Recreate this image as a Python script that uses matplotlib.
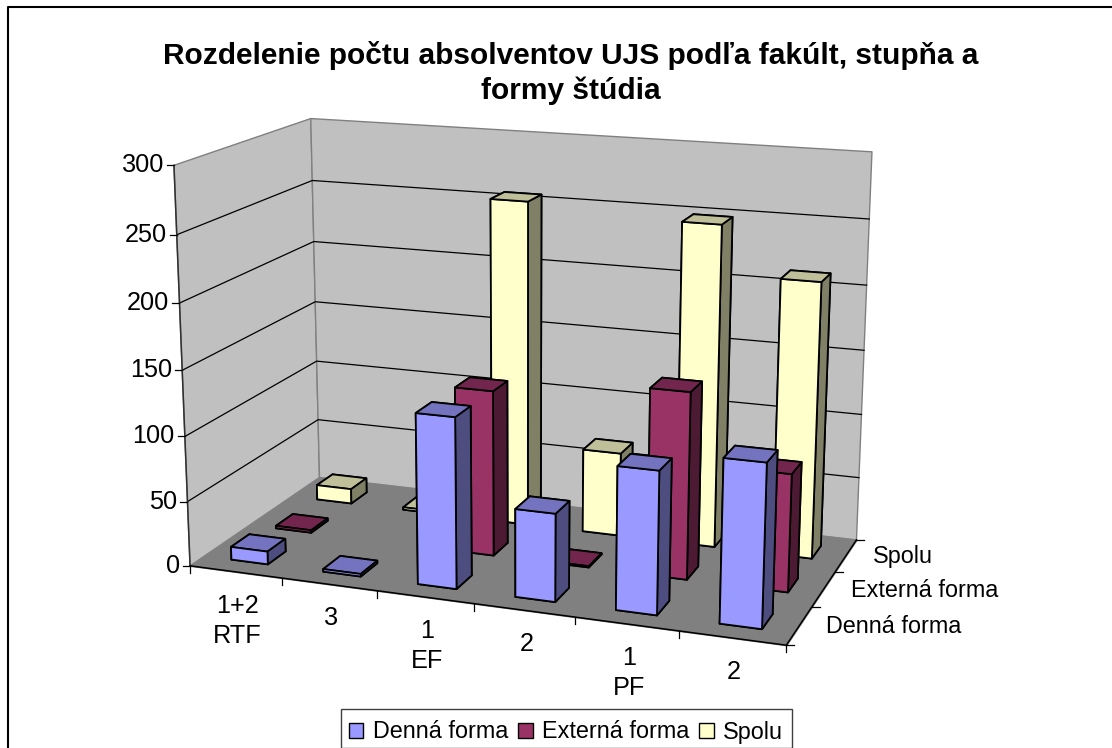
import numpy as np
import matplotlib
matplotlib.use("Agg")
import matplotlib.pyplot as plt
from matplotlib.lines import Line2D
from matplotlib.patches import Patch, Rectangle
from mpl_toolkits.mplot3d import Axes3D
from mpl_toolkits.mplot3d.art3d import Poly3DCollection

TITLE = "Rozdelenie počtu absolventov UJS podľa fakúlt, stupňa a\nformy štúdia"
CATEGORY_LABELS = ["1+2", "3", "1", "2", "1", "2"]
GROUP_LABELS = {0: "RTF", 2: "EF", 4: "PF"}
SERIES = ["Denná forma", "Externá forma", "Spolu"]
DENNA = [10, 2, 129, 66, 106, 120]
EXTERNA = [2, 0, 128, 1, 142, 89]
SPOLU = [12, 2, 256, 66, 249, 212]
VALUES = [DENNA, EXTERNA, SPOLU]
ZTICKS = [0, 50, 100, 150, 200, 250, 300]

FRONT = ["#9999FF", "#993366", "#FFFFCC"]
TOP = ["#7373BF", "#73264D", "#BFBF99"]
SIDE = ["#4D4D80", "#4D1A33", "#808066"]

W, H = 1112, 748
plt.rcParams["font.family"] = ["Liberation Sans", "DejaVu Sans"]
FS = 16.8
FS_NUM = 18.2

nx, ny, zmax = len(CATEGORY_LABELS), len(SERIES), ZTICKS[-1]

# camera fitted to the frame of the 3-D box (world corner -> image pixel)
world = np.array([[0, 0, zmax], [0, 0, 0], [0, ny, zmax], [0, ny, 0],
                  [nx, ny, zmax], [nx, ny, 0], [nx, 0, 0]], float)
image = np.array([[174, 165], [190.3, 565.7], [310.7, 118.7], [319.3, 477.7],
                  [872, 152], [856.7, 539.3], [786, 645.7]], float)
rows = []
for (X, Y, Z), (u, v) in zip(world, image):
    rows.append([X, Y, Z, 1, 0, 0, 0, 0, -u*X, -u*Y, -u*Z, -u])
    rows.append([0, 0, 0, 0, X, Y, Z, 1, -v*X, -v*Y, -v*Z, -v])
A = np.array(rows)
scale = np.diag([1/nx, 1/ny, 1/zmax, 1] * 3)
_, _, Vt = np.linalg.svd(A @ scale)
P = (scale @ Vt[-1]).reshape(3, 4)
if P[2] @ np.array([nx/2, ny/2, 0, 1]) < 0:
    P = -P
depth = np.array([-1.0, 1.0, -0.01, 0.0])
M = np.vstack([P[0], P[1], depth, P[2]])


def px(x, y, z):
    v = P @ np.array([x, y, z, 1.0])
    return v[0]/v[2], v[1]/v[2]


fig = plt.figure(figsize=(W/100, H/100), dpi=100, facecolor="white")
ax = fig.add_axes([0, (H-W)/H, 1, W/H], projection="3d", computed_zorder=False)
ax.set_axis_off()
ax.patch.set_alpha(0)
ax.set_proj_type("ortho")
ax.get_proj = lambda: M


def figtext(x, y, s, **kw):
    return fig.text(x/W, 1-y/H, s, **kw)


def figline(xs, ys, **kw):
    fig.add_artist(Line2D([x/W for x in xs], [1-y/H for y in ys], **kw))


# walls and floor
walls = [[(0, 0, 0), (0, ny, 0), (0, ny, zmax), (0, 0, zmax)],
         [(0, ny, 0), (nx, ny, 0), (nx, ny, zmax), (0, ny, zmax)]]
ax.add_collection3d(Poly3DCollection(walls, facecolors="#C0C0C0", edgecolors="#808080",
                                     linewidths=1.0, zorder=1))
ax.add_collection3d(Poly3DCollection([[(0, 0, 0), (nx, 0, 0), (nx, ny, 0), (0, ny, 0)]],
                                     facecolors="#808080", edgecolors="#808080",
                                     linewidths=1.0, zorder=1.5))
for z in ZTICKS[1:-1]:
    ax.plot([0, 0, nx], [0, ny, ny], [z, z, z], color="black", lw=0.9, zorder=2)
ax.plot([0, 0], [0, 0], [0, zmax], color="#303030", lw=1.1, zorder=2)
ax.plot([0, nx, nx], [0, 0, ny], [0, 0, 0], color="black", lw=1.1, zorder=2)

# bars: back row first, left to right inside a row
order = 3
for r in range(ny - 1, -1, -1):
    for i in range(nx):
        if VALUES[r][i] <= 0:
            continue
        ax.bar3d(i + 0.3, r + 0.3, 0, 0.4, 0.4, VALUES[r][i],
                 color=[FRONT[r], TOP[r], FRONT[r], FRONT[r], SIDE[r], SIDE[r]],
                 shade=False, edgecolor="black", linewidth=1.3, zorder=order)
        order += 1
ax.viewLim.intervalx = (0, W)
ax.viewLim.intervaly = (W, 0)

# value axis
for z in ZTICKS:
    x0, y0 = px(0, 0, z)
    figline([x0 - 7, x0], [y0, y0], color="black", lw=0.9)
    figtext(x0 - 10, y0, str(z), ha="right", va="center", fontsize=FS_NUM)
# category axis
for i in range(nx + 1):
    x0, y0 = px(i, 0, 0)
    figline([x0, x0], [y0, y0 + 7], color="black", lw=0.9)
for i, lab in enumerate(CATEGORY_LABELS):
    x0, y0 = px(i + 0.5, 0, 0)
    figtext(x0 + 2, y0 + 34, lab, ha="center", va="center", fontsize=FS_NUM)
    if i in GROUP_LABELS:
        figtext(x0 + 2, y0 + 64, GROUP_LABELS[i], ha="center", va="center", fontsize=FS_NUM)
# series axis
for r, lab in enumerate(SERIES):
    x0, y0 = px(nx, r, 0)
    figline([x0, x0 + 8], [y0, y0], color="black", lw=0.9)
    xc, yc = px(nx, r + 0.5, 0)
    figtext(xc + 27, yc + 1, lab, ha="left", va="center", fontsize=FS)
x0, y0 = px(nx, ny, 0)
figline([x0, x0 + 8], [y0, y0], color="black", lw=0.9)

figtext(570.5, 73, TITLE, ha="center", va="center", fontsize=21.5, fontweight="bold",
        linespacing=1.32)

# chart-area border: only the top and left sides lie inside the picture
figline([8, 8, W], [H, 6.5, 6.5], color="black", lw=1.5)

# legend box
fig.add_artist(Rectangle((340.5/W, 1-747.5/H), 451/W, 38.5/H, transform=fig.transFigure,
                         facecolor="white", edgecolor="#404040", linewidth=1.0))
handles = [Patch(facecolor=c, edgecolor="black", linewidth=1.0) for c in FRONT]
leg = fig.legend(handles, SERIES, ncol=3, loc="lower left", bbox_to_anchor=(349/W, 4.5/H),
                 fontsize=FS, frameon=False,
                 handlelength=0.62, handleheight=0.62, handletextpad=0.4, columnspacing=0.43,
                 borderpad=0, borderaxespad=0)
leg.set_zorder(5)

fig.savefig("out.png", dpi=100)
